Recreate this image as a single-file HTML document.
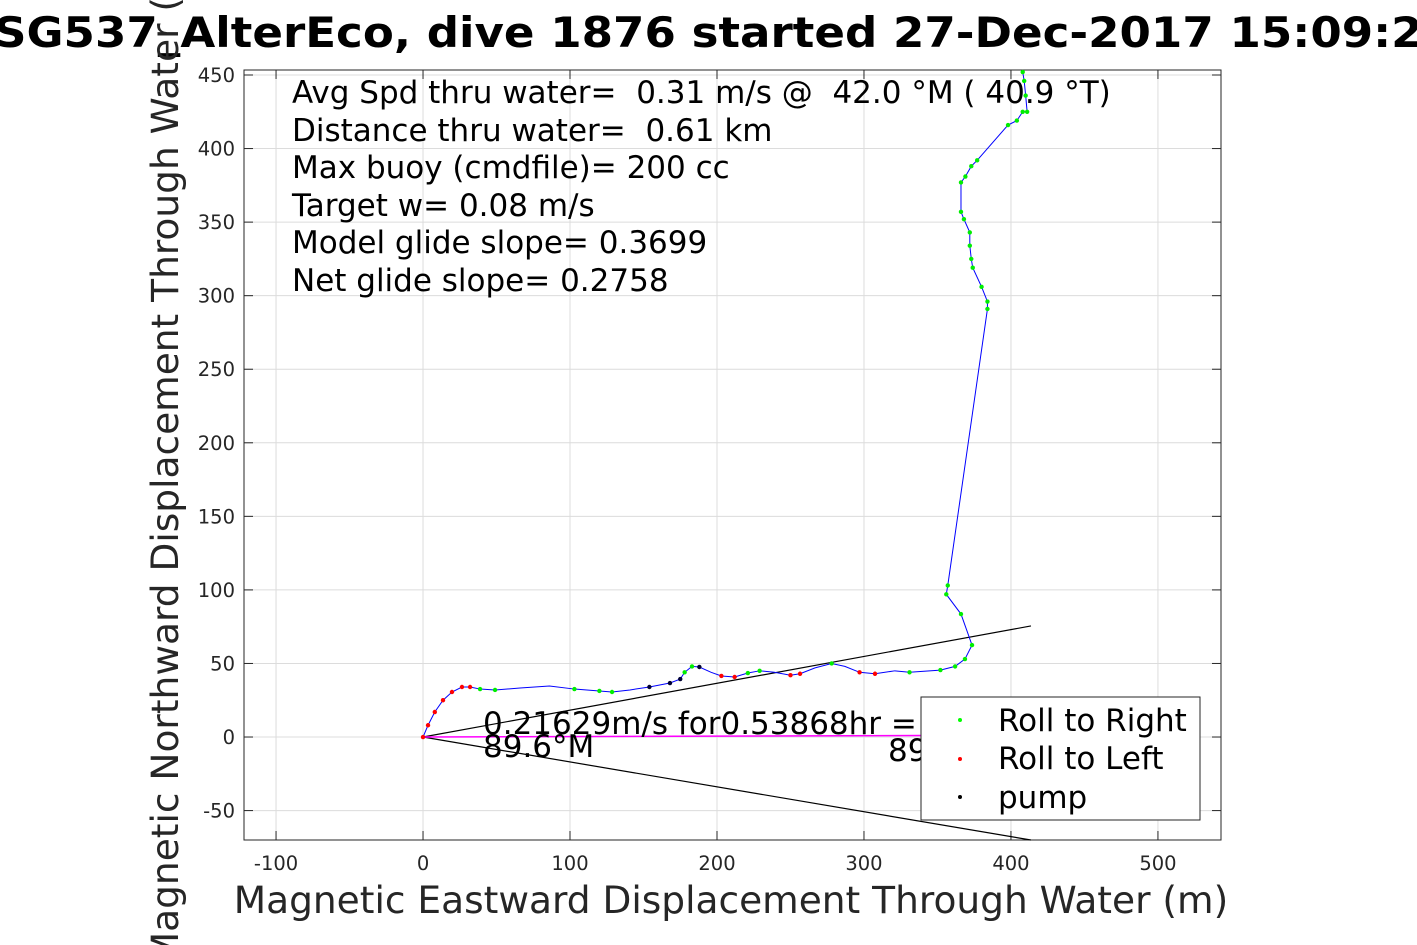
<!DOCTYPE html>
<html><head><meta charset="utf-8"><style>
html,body{margin:0;padding:0;background:#fff;}
svg{display:block;font-family:"DejaVu Sans","Liberation Sans",sans-serif;}
text{white-space:pre;}
</style></head><body>
<svg id="chart" width="1417" height="945" viewBox="0 0 1417 945" xmlns="http://www.w3.org/2000/svg">
<rect x="0" y="0" width="1417" height="945" fill="#fff"/>
<g id="grid"></g>
<g id="ticks"></g>
<rect x="244" y="70" width="977" height="770" fill="none" stroke="#262626" stroke-width="1"/>
<g id="marks"></g>
<text x="-6" y="47" font-size="42" font-weight="bold" fill="#000" textLength="1460" lengthAdjust="spacingAndGlyphs">SG537_AlterEco, dive 1876 started 27-Dec-2017 15:09:26</text>
<text transform="translate(178,455) rotate(-90)" text-anchor="middle" font-size="37.5" fill="#262626">Magnetic Northward Displacement Through Water (m)</text>
<text x="731" y="913" text-anchor="middle" font-size="37.5" fill="#262626">Magnetic Eastward Displacement Through Water (m)</text>
<g font-size="31" fill="#000">
<text x="292" y="103">Avg Spd thru water=  0.31 m/s @  42.0 °M ( 40.9 °T)</text>
<text x="292" y="141">Distance thru water=  0.61 km</text>
<text x="292" y="178">Max buoy (cmdfile)= 200 cc</text>
<text x="292" y="216">Target w= 0.08 m/s</text>
<text x="292" y="253">Model glide slope= 0.3699</text>
<text x="292" y="291">Net glide slope= 0.2758</text>
</g>
<g font-size="31" fill="#000">
<text x="483" y="734">0.21629m/s for0.53868hr =</text>
<text x="483" y="757">89.6°M</text>
<text x="888" y="761">89</text>
</g>
<g>
<rect x="921" y="697" width="279" height="123" fill="#fff" stroke="#262626" stroke-width="1"/>
<circle cx="960" cy="720" r="2" fill="#00ff00"/>
<text x="998" y="731" font-size="31">Roll to Right</text>
<circle cx="960" cy="759" r="2" fill="#ff0000"/>
<text x="998" y="769" font-size="31">Roll to Left</text>
<circle cx="960" cy="797" r="2" fill="#000"/>
<text x="998" y="808" font-size="31">pump</text>
</g>
</svg>
<script>
const xTicks=[-100,0,100,200,300,400,500];
const yTicks=[-50,0,50,100,150,200,250,300,350,400,450];
const trackX=[0,3.4,8,13.6,19.7,26.5,32,38.8,49,66,86,103,120,128.6,140.8,154,168,175,178,183,188,196,203,212,221,229,239,250,256.5,266.7,278,287,297,307.5,321,331,352,362,368.7,373.5,366,356,357,384,384,380,374,373,372,372,368,366,366,369,373,377,398,404,408,411,410,409,408];
const trackY=[0,8,17,25,30.6,34,34,32.6,32,33.3,34.7,32.6,31.3,30.6,32,34,36.7,39.4,44,48,47.6,44,41.5,40.8,43.5,45,44,42,43,47,50,48,44,43,45,44,45.5,48,53,62.5,83.6,97,103,291,296,306,319,325,334,343,352,357,377,381,388,392,416,419,425,425,436,446,452];
const trackKind=['r','r','r','r','r','r','r','g','g','n','n','g','g','g','n','k','k','k','g','g','k','n','r','r','g','g','n','r','r','n','g','n','r','r','n','g','g','g','g','g','g','g','g','g','g','g','g','g','g','g','g','g','g','g','g','g','g','g','g','g','g','g','g'];
const xMin=-121.8,xMax=542.9,yMin=-70,yMax=453.4;
const L=244,R=1221,T=70,B=840;
const sx=v=>L+(v-xMin)/(xMax-xMin)*(R-L);
const sy=v=>B-(v-yMin)/(yMax-yMin)*(B-T);
const NS='http://www.w3.org/2000/svg';
function mk(tag,attrs,parent){const e=document.createElementNS(NS,tag);for(const k in attrs)e.setAttribute(k,attrs[k]);parent.appendChild(e);return e;}
const grid=document.getElementById('grid'),ticks=document.getElementById('ticks'),marks=document.getElementById('marks');
xTicks.forEach(v=>{const x=sx(v);
 const g=mk('line',{x1:x,x2:x,y1:T,y2:B,stroke:'#dcdcdc','stroke-width':1},grid);
 
 
 mk('line',{x1:x,x2:x,y1:B,y2:B-9,stroke:'#262626'},ticks);
 mk('line',{x1:x,x2:x,y1:T,y2:T+9,stroke:'#262626'},ticks);
 const t=mk('text',{x:x,y:B+30,'text-anchor':'middle','font-size':19.5,fill:'#262626'},ticks);
 
 
 t.textContent=v;});
yTicks.forEach(v=>{const y=sy(v);
 const g=mk('line',{x1:L,x2:R,y1:y,y2:y,stroke:'#dcdcdc','stroke-width':1},grid);
 
 
 mk('line',{x1:L,x2:L+9,y1:y,y2:y,stroke:'#262626'},ticks);
 mk('line',{x1:R,x2:R-9,y1:y,y2:y,stroke:'#262626'},ticks);
 const t=mk('text',{x:L-9,y:y+7,'text-anchor':'end','font-size':19.5,fill:'#262626'},ticks);
 
 
 t.textContent=v;});
const coneUpper=[413.6,75.5],coneLower=[413.6,-70],currentEnd=[340,1];
const l1=mk('line',{x1:sx(0),y1:sy(0),x2:sx(coneUpper[0]),y2:sy(coneUpper[1]),stroke:'#000','stroke-width':1.2},marks);


const l2=mk('line',{x1:sx(0),y1:sy(0),x2:sx(coneLower[0]),y2:sy(coneLower[1]),stroke:'#000','stroke-width':1.2},marks);


const l3=mk('line',{x1:sx(0),y1:sy(0),x2:sx(currentEnd[0]),y2:sy(currentEnd[1]),stroke:'#ff00ff','stroke-width':1.5},marks);


const p=mk('polyline',{points:trackX.map((x,i)=>sx(x)+','+sy(trackY[i])).join(' '),fill:'none',stroke:'#0000ff','stroke-width':1},marks);


const col={r:'#ff0000',g:'#00ee00',k:'#000033'};
trackX.forEach((x,i)=>{const k=trackKind[i];if(!col[k])return;
 const c=mk('circle',{cx:sx(x),cy:sy(trackY[i]),r:2.2,fill:col[k]},marks);
 
 });
</script>
</body></html>
